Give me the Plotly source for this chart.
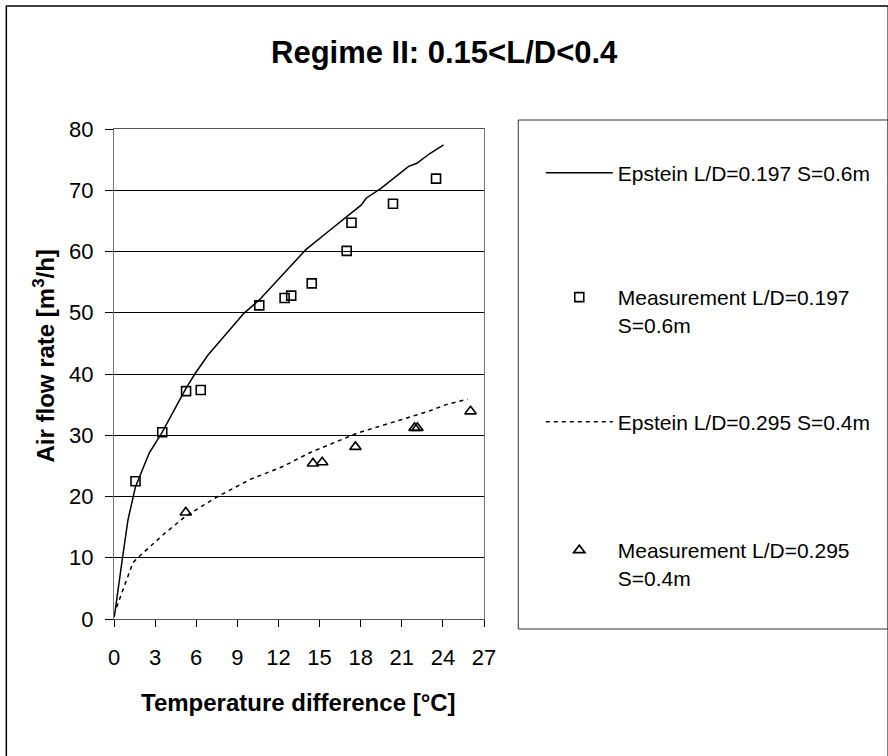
import plotly.graph_objects as go

# ---------------- data ----------------
temp_epstein_197 = [0.02, 0.14, 0.62, 1.02, 1.57, 2.57, 3.52, 5.26, 5.9, 6.86, 9.48, 10.6,
                    13.29, 14.0, 15.66, 18.05, 18.4, 19.48, 21.5, 22.1, 23.05, 24.05]
flow_epstein_197 = [0.3, 2.1, 10.0, 16.2, 21.6, 27.1, 30.5, 37.7, 40.0, 43.1, 49.9, 52.1,
                    58.6, 60.3, 63.3, 67.6, 68.7, 70.3, 73.9, 74.4, 76.0, 77.4]

temp_meas_197 = [1.57, 3.52, 5.26, 6.33, 10.6, 12.45, 12.93, 14.43, 16.98, 17.33, 20.36, 23.5]
flow_meas_197 = [22.5, 30.5, 37.2, 37.4, 51.2, 52.4, 52.8, 54.8, 60.1, 64.7, 67.8, 71.9]

temp_epstein_295 = [0.19, 1.38, 1.98, 3.76, 5.24, 7.57, 9.95, 12.33, 14.24, 16.86, 17.81,
                    20.9, 22.93, 24.24, 25.8]
flow_epstein_295 = [1.9, 9.2, 10.5, 14.1, 16.8, 20.0, 22.8, 24.9, 27.1, 29.6, 30.4,
                    32.5, 33.9, 35.0, 35.9]

temp_meas_295 = [5.24, 14.52, 15.19, 17.62, 21.93, 22.14, 26.02]
flow_meas_295 = [17.4, 25.4, 25.6, 28.1, 31.2, 31.2, 33.9]

x_ticks = [0, 3, 6, 9, 12, 15, 18, 21, 24, 27]
y_ticks = [0, 10, 20, 30, 40, 50, 60, 70, 80]

names = ["Epstein L/D=0.197 S=0.6m",
         "Measurement L/D=0.197<br>S=0.6m",
         "Epstein L/D=0.295 S=0.4m",
         "Measurement L/D=0.295<br>S=0.4m"]

# ---------------- layout helpers ----------------
FONT = "Liberation Sans, Arial, sans-serif"
W, H = 888, 756
L, T, PW, PH = 114, 129, 378, 490


def px(x):
    return (x - L) / PW


def py(y):
    return (T + PH - y) / PH


fig = go.Figure()
fig.add_trace(go.Scatter(x=temp_epstein_197, y=flow_epstein_197, mode="lines",
                         line=dict(color="black", width=1.5), name=names[0], legend="legend"))
fig.add_trace(go.Scatter(x=temp_meas_197, y=flow_meas_197, mode="markers",
                         marker=dict(symbol="square-open", size=9, color="black",
                                     line=dict(width=1.6, color="black")),
                         name=names[1], legend="legend2"))
fig.add_trace(go.Scatter(x=temp_epstein_295, y=flow_epstein_295, mode="lines",
                         line=dict(color="black", width=1.5, dash="4px,4px"),
                         name=names[2], legend="legend3"))
fig.add_trace(go.Scatter(x=temp_meas_295, y=flow_meas_295, mode="markers",
                         marker=dict(symbol="triangle-up-open", size=10, color="black",
                                     line=dict(width=1.6, color="black")),
                         name=names[3], legend="legend4"))

leg_common = dict(xanchor="left", yanchor="middle", bgcolor="rgba(0,0,0,0)", borderwidth=0,
                  valign="top", itemwidth=67, font=dict(family=FONT, size=21, color="black"))

fig.update_layout(
    width=W, height=H,
    margin=dict(l=L, r=W - L - PW, t=T, b=H - T - PH, pad=0),
    paper_bgcolor="white", plot_bgcolor="white",
    font=dict(family=FONT, color="black"),
    legend=dict(x=px(550), y=py(173), **leg_common),
    legend2=dict(x=px(550), y=py(311), **leg_common),
    legend3=dict(x=px(550), y=py(422), **leg_common),
    legend4=dict(x=px(550), y=py(564), **leg_common),
    xaxis=dict(range=[0, 27], tickvals=x_ticks, ticktext=[str(v) for v in x_ticks],
               ticks="outside", ticklen=7, tickcolor="black", tickwidth=1,
               showline=True, linecolor="#555555", linewidth=1, mirror=True,
               showgrid=False, zeroline=False,
               tickfont=dict(family=FONT, size=22, color="black"), ticklabelstandoff=12),
    yaxis=dict(range=[0, 80], tickvals=y_ticks, ticktext=[str(v) for v in y_ticks],
               ticks="outside", ticklen=8, tickcolor="black", tickwidth=1,
               showline=True, linecolor="#777777", linewidth=1, mirror=True,
               showgrid=True, gridcolor="black", gridwidth=1, zeroline=False,
               tickfont=dict(family=FONT, size=22, color="black"), ticklabelstandoff=7),
    shapes=[
        # outer chart frame
        dict(type="rect", xref="paper", yref="paper", x0=px(4), x1=px(905), y0=py(775), y1=py(6),
             line=dict(color="black", width=1.5), fillcolor="rgba(0,0,0,0)", layer="below"),
        # legend frame
        dict(type="rect", xref="paper", yref="paper", x0=px(527), x1=px(905), y0=py(629), y1=py(120),
             line=dict(color="#333333", width=1), fillcolor="rgba(0,0,0,0)", layer="below"),
    ],
    annotations=[
        dict(text="<b>Regime II: 0.15&lt;L/D&lt;0.4</b>", xref="paper", yref="paper",
             x=px(452), y=py(53), xanchor="center", yanchor="middle", showarrow=False,
             font=dict(family=FONT, size=31, color="black")),
        dict(text="<b>Temperature difference [°C]</b>", xref="paper", yref="paper",
             x=px(302.5), y=py(702), xanchor="center", yanchor="middle", showarrow=False,
             font=dict(family=FONT, size=24, color="black")),
        dict(text="<b>Air flow rate [m<sup>3</sup>/h]</b>", xref="paper", yref="paper",
             x=px(42), y=py(356), xanchor="center", yanchor="middle", showarrow=False,
             textangle=-90, font=dict(family=FONT, size=24, color="black")),
    ],
    showlegend=True,
)

fig.write_html("out.html", config={"displayModeBar": False},
               post_script="document.body.style.margin='0';")
